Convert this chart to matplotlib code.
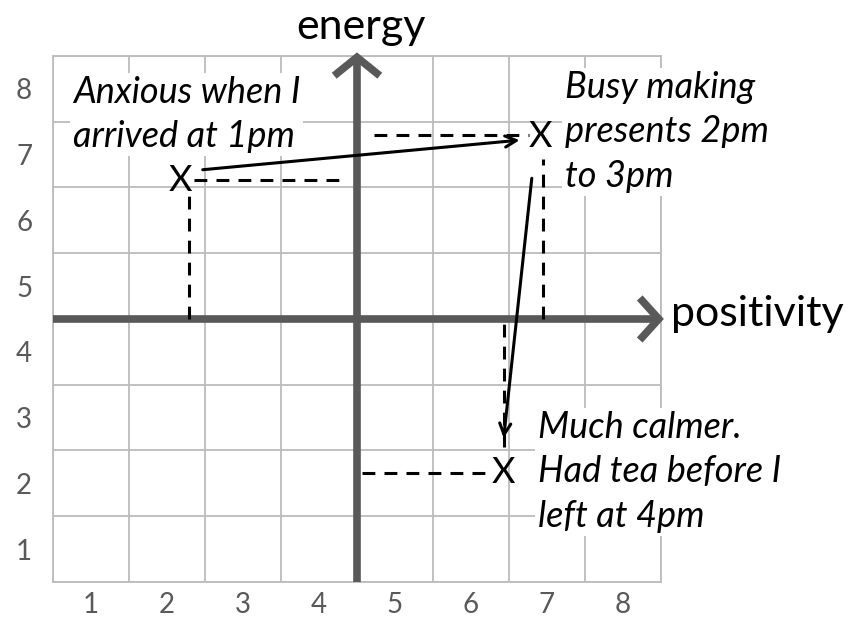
import numpy as np
import matplotlib
matplotlib.use("Agg")
import matplotlib.pyplot as plt

plt.rcParams['font.family'] = ['Lato', 'DejaVu Sans']

# mood points (positivity, energy)
pos_x = [2.17, 6.91, 6.43]
pos_y = [6.61, 7.27, 2.16]
notes = ["Anxious when I\narrived at 1pm",
         "Busy making\npresents 2pm\nto 3pm",
         "Much calmer.\nHad tea before I\nleft at 4pm"]
note_x = [0.76, 7.24, 6.88]
note_y = [8.2, 8.27, 3.1]

# dashed guide lines to the axes: (x of vertical, y of horizontal)
guide_vx = [2.29, 6.95, 6.43]
guide_hy = [6.61, 7.30, 2.16]
guide_hx = [[2.36, 4.38], [4.72, 6.76], [4.56, 6.24]]
guide_vy = [[4.5, 6.44], [4.5, 6.93], [2.55, 4.5]]

# arrows between moods
arrow_from = [(2.47, 6.77), (6.80, 6.64)]
arrow_to = [(6.64, 7.22), (6.43, 2.69)]

tick_vals = [1, 2, 3, 4, 5, 6, 7, 8]
tick_labels = [str(v) for v in tick_vals]

grey = '#595959'
grid_c = '#bcbcbc'

fig = plt.figure(figsize=(8.67, 6.18), dpi=100)
ax = fig.add_axes([0.0611, 0.0583, 0.7013, 0.8511])
ax.set_xlim(0.5, 8.5)
ax.set_ylim(0.5, 8.5)

ax.set_xticks(tick_vals)
ax.set_xticklabels(tick_labels)
ax.set_yticks(tick_vals)
ax.set_yticklabels(tick_labels)
ax.set_xticks(np.arange(0.5, 9, 1), minor=True)
ax.set_yticks(np.arange(0.5, 9, 1), minor=True)
ax.grid(which='minor', color=grid_c, lw=1.3)
ax.tick_params(which='both', length=0, labelsize=20, colors=grey)
ax.tick_params(axis='x', pad=7)
ax.tick_params(axis='y', pad=15)
for s in ax.spines.values():
    s.set_color(grid_c)
    s.set_linewidth(1.3)

# main axes with chevron heads
ax.plot([0.5, 8.44], [4.5, 4.5], color=grey, lw=5.5, solid_capstyle='butt', clip_on=False, zorder=3)
ax.plot([4.5, 4.5], [0.5, 8.44], color=grey, lw=5.5, solid_capstyle='butt', clip_on=False, zorder=3)
ax.plot([8.22, 8.47, 8.22], [4.82, 4.5, 4.18], color=grey, lw=5.5, solid_joinstyle='miter',
        solid_capstyle='butt', clip_on=False, zorder=3)
ax.plot([4.2, 4.5, 4.8], [8.2, 8.48, 8.2], color=grey, lw=5.5, solid_joinstyle='miter',
        solid_capstyle='butt', clip_on=False, zorder=3)

ax.text(4.55, 8.94, "energy", fontsize=31, ha='center', va='center', clip_on=False)
ax.text(8.63, 4.58, "positivity", fontsize=31, ha='left', va='center', clip_on=False)

for i in range(3):
    ax.plot([guide_vx[i], guide_vx[i]], guide_vy[i], color='black', lw=2.2, ls=(0, (4.2, 3)), zorder=4)
    ax.plot(guide_hx[i], [guide_hy[i], guide_hy[i]], color='black', lw=2.2, ls=(0, (4.2, 3)), zorder=4)
    ax.text(pos_x[i], pos_y[i], "X", fontsize=26, ha='center', va='center', zorder=6)
    ax.text(note_x[i], note_y[i], notes[i], fontsize=26, style='italic', ha='left', va='top',
            linespacing=1.42, zorder=5,
            bbox=dict(facecolor='white', edgecolor='none', pad=2))

for a, b in zip(arrow_from, arrow_to):
    ax.annotate("", xy=b, xytext=a, zorder=6,
                arrowprops=dict(arrowstyle='->,head_length=0.8,head_width=0.4', color='black',
                                lw=2.2, shrinkA=0, shrinkB=0))

fig.savefig("out.png", dpi=100)
